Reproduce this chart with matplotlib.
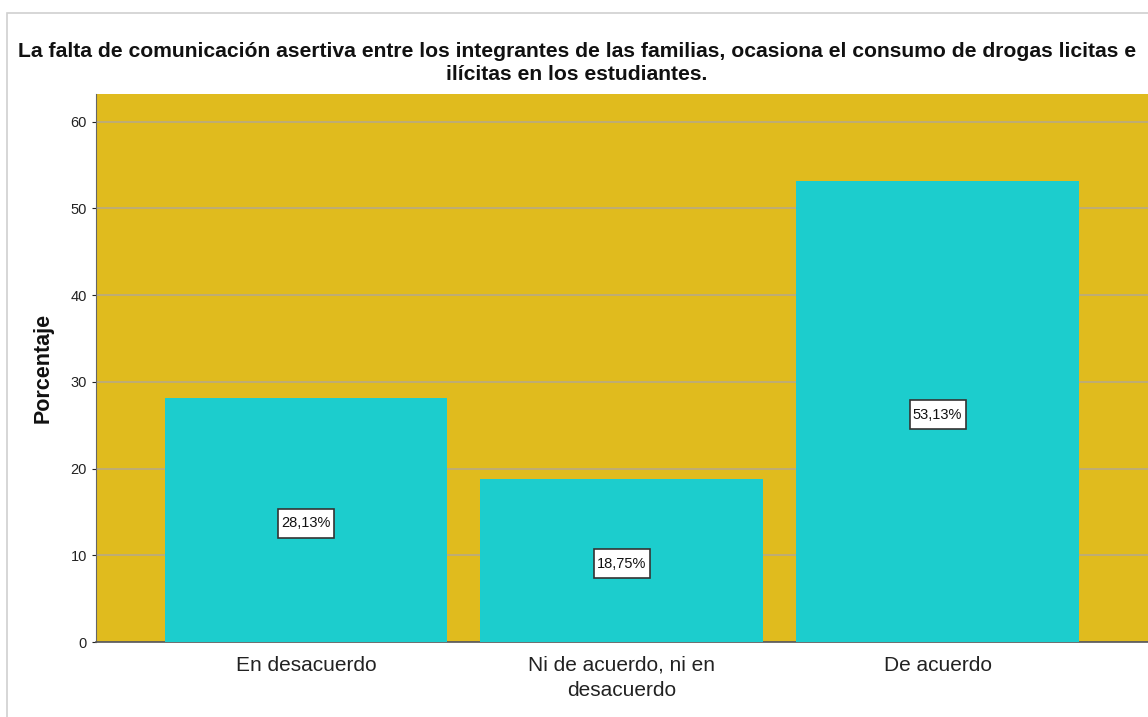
import matplotlib.pyplot as plt
from matplotlib.patches import Rectangle

plt.rcParams['font.family'] = ['Liberation Sans', 'DejaVu Sans']

categories = ['En desacuerdo', 'Ni de acuerdo, ni en\ndesacuerdo', 'De acuerdo']
percentages = [28.13, 18.75, 53.13]
value_labels = ['28,13%', '18,75%', '53,13%']
y_ticks = [0, 10, 20, 30, 40, 50, 60]

title = ('La falta de comunicación asertiva entre los integrantes de las familias, '
         'ocasiona el consumo de drogas licitas e\nilícitas en los estudiantes.')

bg_gold = '#e0bb1e'
bar_cyan = '#1ccdcd'
grid_col = '#b8aa84'

W, H = 1148, 717
fig = plt.figure(figsize=(W / 100, H / 100), dpi=100)
fig.patch.set_facecolor('white')

# light frame around the chart (cut off on right/bottom like the screenshot)
fig.patches.append(Rectangle((7 / W, -0.1), 1.2, 1 - 13 / H + 0.1,
                             transform=fig.transFigure, fill=False,
                             edgecolor='#d0d0d0', linewidth=1.2))

ax = fig.add_axes([96 / W, 1 - 642 / H, 1 - 96 / W + 0.001, (642 - 94) / H])
ax.set_facecolor(bg_gold)

x = list(range(len(categories)))
ax.bar(x, percentages, width=0.895, color=bar_cyan, zorder=3)

ax.set_xlim(-0.665, 2.67)
ax.set_ylim(0, 63.2)

# value labels in white boxes (box size in pixels -> data units)
fig.canvas.draw()
px_x = (ax.get_xlim()[1] - ax.get_xlim()[0]) / ax.bbox.width
px_y = (ax.get_ylim()[1] - ax.get_ylim()[0]) / ax.bbox.height
box_w, box_h = 56 * px_x, 29 * px_y
for xi, v, lab in zip(x, percentages, value_labels):
    yc = v / 2 - 3 * px_y
    ax.add_patch(Rectangle((xi - box_w / 2, yc - box_h / 2), box_w, box_h,
                           facecolor='white', edgecolor='#333333',
                           linewidth=1.2, zorder=4))
    ax.text(xi, yc, lab, ha='center', va='center', fontsize=10.5,
            color='#111111', zorder=5)

ax.set_yticks(y_ticks)
ax.set_xticks(x)
ax.set_xticklabels(categories, fontsize=15, color='#222222', linespacing=1.4)
ax.tick_params(axis='y', labelsize=10.5, colors='#222222', length=3, width=0.8)
ax.tick_params(axis='x', length=0, pad=10)
ax.yaxis.grid(True, color=grid_col, linewidth=1.2, zorder=1)
ax.set_axisbelow(True)

for side in ['top', 'right']:
    ax.spines[side].set_visible(False)
ax.spines['left'].set_color('#666666')
ax.spines['bottom'].set_color('#555555')
ax.spines['bottom'].set_linewidth(1.2)

ax.set_ylabel('Porcentaje', fontsize=15.5, fontweight='bold', color='#111111', labelpad=12)

fig.text(0.5026, 1 - 63 / H, title, ha='center', va='center', fontsize=15.2,
         fontweight='bold', color='#111111', linespacing=1.25)

fig.savefig('out.png', dpi=100, facecolor='white')
